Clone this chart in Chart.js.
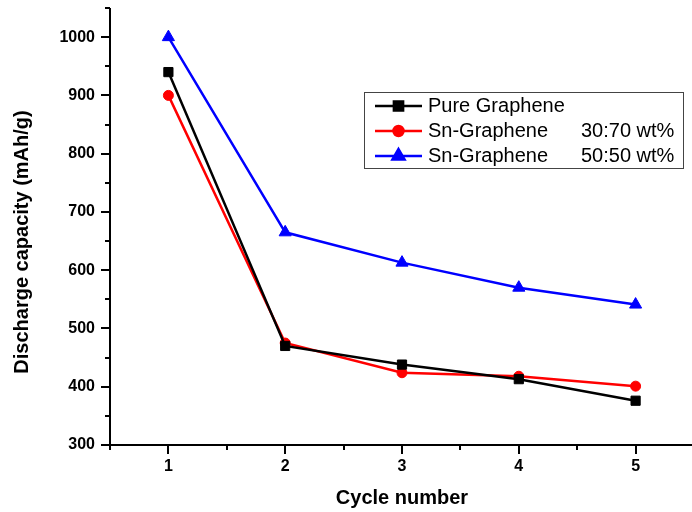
<!DOCTYPE html>
<html>
<head>
<meta charset="utf-8">
<script src="https://cdn.jsdelivr.net/npm/chart.js@4"></script>
<style>
  html, body { margin: 0; padding: 0; background: #fff; overflow: hidden; }
</style>
</head>
<body>
<canvas id="myChart" width="694" height="512"></canvas>
<script>
// values
const cycles = [1, 2, 3, 4, 5];
const pureGraphene = [940, 470, 438, 413, 376];
const snGraphene3070 = [900, 475, 424, 418, 401];
const snGraphene5050 = [1000, 665, 613, 570, 541];
const seriesNames = ["Pure Graphene", "Sn-Graphene", "Sn-Graphene"];
const seriesRatios = ["", "30:70 wt%", "50:50 wt%"];
const yTickLabels = [300, 400, 500, 600, 700, 800, 900, 1000];
const xTickLabels = [1, 2, 3, 4, 5];

const ctx = document.getElementById("myChart");

function toPoints(arr) {
  return arr.map((v, i) => ({ x: cycles[i], y: v }));
}

// axes, ticks, y title and legend drawn by hand (Origin style)
const originStyle = {
  id: "originStyle",
  afterDraw(chart) {
    const c = chart.ctx;
    const xs = chart.scales.x;
    const ys = chart.scales.y;
    const area = chart.chartArea;
    c.save();
    c.strokeStyle = "#000";
    c.lineWidth = 2;
    c.beginPath();
    c.moveTo(area.left, area.top);
    c.lineTo(area.left, area.bottom);
    c.lineTo(area.right, area.bottom);
    c.stroke();

    ys.ticks.forEach((t) => {
      const py = Math.round(ys.getPixelForValue(t.value));
      const len = yTickLabels.includes(t.value) ? 9 : 5;
      c.beginPath();
      c.moveTo(area.left, py);
      c.lineTo(area.left - len, py);
      c.stroke();
    });
    xs.ticks.forEach((t) => {
      const px = Math.round(xs.getPixelForValue(t.value));
      const len = xTickLabels.includes(t.value) ? 9 : 5;
      c.beginPath();
      c.moveTo(px, area.bottom);
      c.lineTo(px, area.bottom + len);
      c.stroke();
    });

    // y axis title
    c.fillStyle = "#000";
    c.font = "bold 20px Arial, 'Liberation Sans'";
    c.textAlign = "center";
    c.textBaseline = "middle";
    c.translate(22, 242);
    c.rotate(-Math.PI / 2);
    c.fillText("Discharge capacity (mAh/g)", 0, 0);
    c.restore();

    // legend
    c.save();
    c.strokeStyle = "#444";
    c.lineWidth = 1;
    c.strokeRect(364.5, 92.5, 319, 76);
    const rows = [106, 131, 156];
    chart.data.datasets.forEach((ds, i) => {
      const y = rows[i];
      c.strokeStyle = ds.borderColor;
      c.lineWidth = 2.5;
      c.beginPath();
      c.moveTo(375, y);
      c.lineTo(422, y);
      c.stroke();
      c.fillStyle = ds.backgroundColor;
      Chart.helpers.drawPoint(c, { pointStyle: ds.pointStyle, radius: ds.pointRadius, rotation: 0, borderWidth: 1 }, 398.5, y);
      c.fill();
      c.fillStyle = "#000";
      c.font = "20px Arial, 'Liberation Sans'";
      c.textAlign = "left";
      c.textBaseline = "middle";
      c.fillText(seriesNames[i], 428, y);
      if (seriesRatios[i]) c.fillText(seriesRatios[i], 581, y);
    });
    c.restore();
  },
};

function series(label, data, color, style, radius) {
  return {
    label: label,
    data: toPoints(data),
    borderColor: color,
    backgroundColor: color,
    borderWidth: 2.5,
    pointStyle: style,
    pointRadius: radius,
    pointHoverRadius: radius,
    pointBorderWidth: 1,
    pointBorderColor: color,
    pointBackgroundColor: color,
    tension: 0,
    clip: false,
  };
}

new Chart(ctx, {
  type: "line",
  data: {
    datasets: [
      series("Pure Graphene", pureGraphene, "#000000", "rect", 6.5),
      series("Sn-Graphene 30:70 wt%", snGraphene3070, "#ff0000", "circle", 5),
      series("Sn-Graphene 50:50 wt%", snGraphene5050, "#0000ff", "triangle", 7),
    ],
  },
  options: {
    responsive: false,
    animation: false,
    devicePixelRatio: 1,
    layout: { autoPadding: false, padding: { top: 8, left: 0, right: 0, bottom: 0 } },
    plugins: { legend: { display: false }, tooltip: { enabled: false } },
    scales: {
      x: {
        type: "linear",
        min: 0.5,
        max: 5.5,
        grid: { display: false, drawTicks: false },
        border: { display: false },
        ticks: {
          stepSize: 0.5,
          padding: 12,
          color: "#000",
          font: { family: "Arial, 'Liberation Sans'", size: 16, weight: "bold" },
          maxRotation: 0,
          autoSkip: false,
          callback: (v) => (xTickLabels.includes(v) ? String(v) : ""),
        },
        title: {
          display: true,
          text: "Cycle number",
          color: "#000",
          font: { family: "Arial, 'Liberation Sans'", size: 20, weight: "bold" },
          padding: { top: 0, bottom: 2 },
        },
        afterFit: (scale) => {
          scale.height = 67;
          scale.paddingLeft = 0;
          scale.paddingRight = 0;
        },
      },
      y: {
        min: 300,
        max: 1050,
        grid: { display: false, drawTicks: false },
        border: { display: false },
        ticks: {
          stepSize: 50,
          padding: 15,
          color: "#000",
          font: { family: "Arial, 'Liberation Sans'", size: 16, weight: "bold" },
          autoSkip: false,
          callback: (v) => (yTickLabels.includes(v) ? String(v) : ""),
        },
        afterFit: (scale) => {
          scale.width = 110;
          scale.paddingTop = 0;
          scale.paddingBottom = 0;
        },
      },
    },
  },
  plugins: [originStyle],
});
</script>
</body>
</html>
